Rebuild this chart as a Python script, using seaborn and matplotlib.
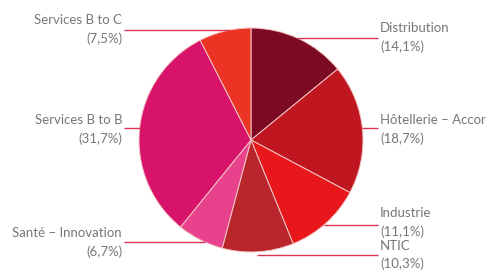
import matplotlib
matplotlib.use("Agg")
import matplotlib.pyplot as plt
import seaborn as sns
import numpy as np

sectors = ["Distribution", "Hôtellerie – Accor", "Industrie", "NTIC",
           "Santé – Innovation", "Services B to B", "Services B to C"]
shares = [14.1, 18.7, 11.1, 10.3, 6.7, 31.7, 7.5]
share_labels = ["(14,1%)", "(18,7%)", "(11,1%)", "(10,3%)", "(6,7%)", "(31,7%)", "(7,5%)"]
colors = ["#7c0a22", "#c0161f", "#e8171c", "#b8262b", "#e8428c", "#d8136a", "#ec3424"]

sns.set_theme(style="white")
plt.rcParams['font.family'] = ['Lato', 'DejaVu Sans']

W, H = 490, 271
fig = plt.figure(figsize=(W / 100, H / 100), dpi=100)
ax = fig.add_axes([0, 0, 1, 1])

cx, cy_px, r = 251, 140, 112
cy = H - cy_px
ax.pie(shares, colors=colors, startangle=90, counterclock=False,
       center=(cx, cy), radius=r, frame=True,
       wedgeprops=dict(edgecolor="#f3c6c6", linewidth=0.7))
ax.set_xlim(0, W)
ax.set_ylim(0, H)
ax.set_aspect('equal')
ax.axis('off')

layout = {
    "Distribution": ("R", 38),
    "Hôtellerie – Accor": ("R", 128),
    "Industrie": ("R", 225),
    "NTIC": ("R", 255),
    "Santé – Innovation": ("L", 242),
    "Services B to B": ("L", 128),
    "Services B to C": ("L", 30),
}
text_pos = {
    "Distribution": 28, "Hôtellerie – Accor": 120, "Industrie": 213, "NTIC": 246,
    "Santé – Innovation": 233, "Services B to B": 120, "Services B to C": 20,
}
xr, xl = 380, 122
tc = "#777777"
lc = "#dc3452"
fs = 9.5
for name, lab in zip(sectors, share_labels):
    side, ly = layout[name]
    dy = ly - cy_px
    half = np.sqrt(max(r * r - dy * dy, 0))
    half = max(half, 6)
    ty = text_pos[name]
    gap = 18 if name == "NTIC" else 19
    if side == "R":
        x0 = cx + half
        ax.plot([x0, xr - 2], [H - ly, H - ly], color=lc, lw=1, solid_capstyle='butt')
        ax.text(xr, H - ty, name, ha='left', va='center', color=tc, fontsize=fs)
        ax.text(xr, H - ty - gap, lab, ha='left', va='center', color=tc, fontsize=fs)
    else:
        x0 = cx - half
        ax.plot([xl + 2, x0], [H - ly, H - ly], color=lc, lw=1, solid_capstyle='butt')
        ax.text(xl, H - ty, name, ha='right', va='center', color=tc, fontsize=fs)
        ax.text(xl, H - ty - gap, lab, ha='right', va='center', color=tc, fontsize=fs)

fig.savefig("out.png", dpi=100)
